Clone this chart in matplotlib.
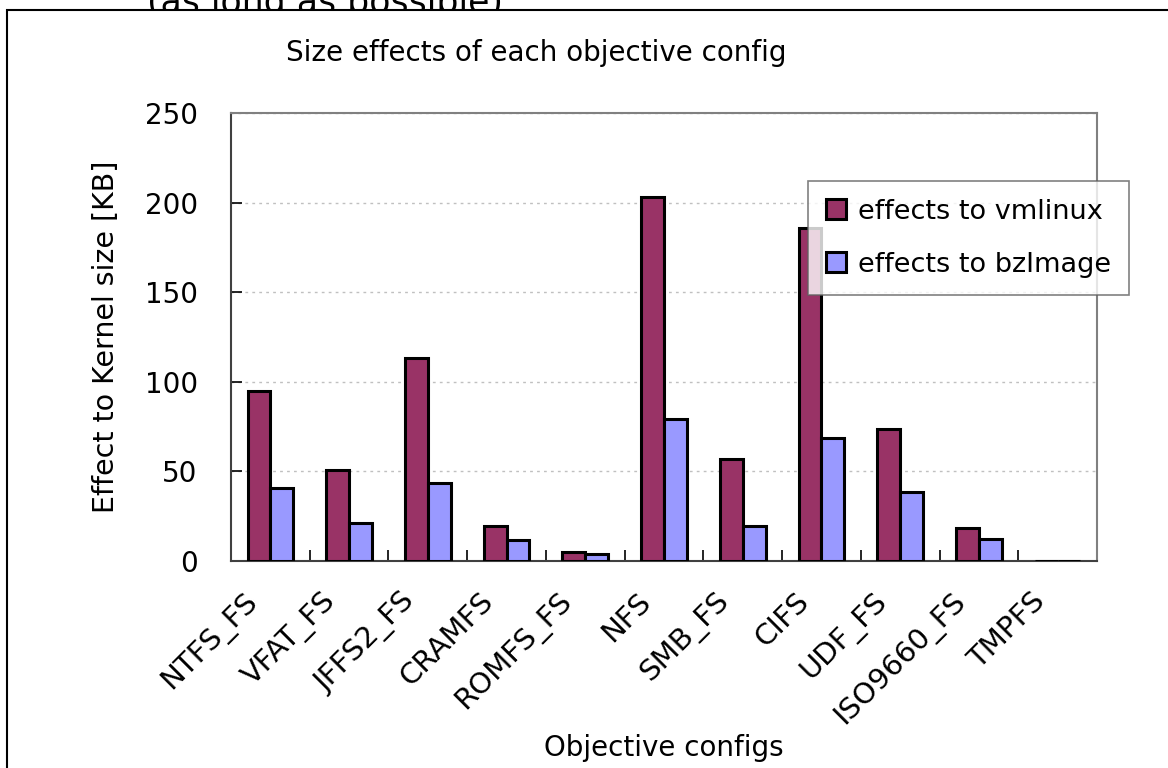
import matplotlib
matplotlib.use("Agg")
import matplotlib.pyplot as plt
import matplotlib.transforms as mtransforms
import numpy as np
from matplotlib.patches import Rectangle

categories = ["NTFS_FS", "VFAT_FS", "JFFS2_FS", "CRAMFS", "ROMFS_FS", "NFS",
              "SMB_FS", "CIFS", "UDF_FS", "ISO9660_FS", "TMPFS"]
vmlinux = [95, 51, 113.5, 19.7, 5.2, 203, 56.7, 185.6, 73.7, 18.6, 0]
bzimage = [41, 21.2, 43.4, 11.9, 3.7, 79, 19.7, 68.5, 38.3, 12.1, 0]
yticks = [0, 50, 100, 150, 200, 250]

W, H = 1168, 768
plt.rcParams['font.family'] = ['DejaVu Sans']
fig = plt.figure(figsize=(W / 100, H / 100), dpi=100)

# text peeking above the chart frame (cut by the frame)
fig.text(147 / W, 1 - 13 / H, "(as long as possible)", fontsize=25, ha='left',
         va='baseline', zorder=0.2)
# outer white chart frame
fig.patches.append(Rectangle((7 / W, -0.05), 1.1, 1 - 10 / H + 0.05, transform=fig.transFigure,
                             facecolor='white', edgecolor='black', linewidth=1.5, zorder=0.5))

ax = fig.add_axes([231 / W, 1 - 561 / H, (1097 - 231) / W, (561 - 113) / H])
ax.set_zorder(1)
x = np.arange(len(categories))
bw = 0.29
ax.bar(x - bw / 2, vmlinux, bw, color='#993366', edgecolor='black', linewidth=2.2,
       label='effects to vmlinux', zorder=3)
ax.bar(x + bw / 2, bzimage, bw, color='#9999FF', edgecolor='black', linewidth=2.2,
       label='effects to bzImage', zorder=3)

ax.set_xlim(-0.5, len(categories) - 0.5)
ax.set_ylim(0, 250)
ax.set_yticks(yticks)
ax.set_yticklabels([str(v) for v in yticks], fontsize=20)
ax.yaxis.grid(True, linestyle=(0, (2, 3)), color='#c0c0c0', linewidth=1, zorder=0)
ax.tick_params(axis='y', direction='in', length=8, width=1.2, pad=24)

ax.set_xticks(x)
ax.set_xticklabels(categories, rotation=45, ha='right', rotation_mode='anchor', fontsize=21)
ax.tick_params(axis='x', which='major', length=0, pad=19)
offset = mtransforms.ScaledTranslation(-27 / 100, 0, fig.dpi_scale_trans)
for lbl in ax.get_xticklabels():
    lbl.set_transform(lbl.get_transform() + offset)
ax.set_xticks(np.arange(len(categories) + 1) - 0.5, minor=True)
ax.tick_params(axis='x', which='minor', direction='in', length=8, width=1.2)

for s in ['top', 'right']:
    ax.spines[s].set_color('#808080')
    ax.spines[s].set_linewidth(1.5)
for s in ['left', 'bottom']:
    ax.spines[s].set_color('#404040')
    ax.spines[s].set_linewidth(1.5)

ax.set_ylabel("Effect to Kernel size [KB]", fontsize=20.5, labelpad=18)
ax.set_xlabel("Objective configs", fontsize=20)
ax.xaxis.set_label_coords(0.5, -(748 - 561) / (561 - 113))
ax.xaxis.label.set_va('center')
fig.text(536 / W, 1 - 53 / H, "Size effects of each objective config", fontsize=20,
         ha='center', va='center', zorder=3)

leg = ax.legend(loc='upper left',
                bbox_to_anchor=((808 - 231) / (1097 - 231), (561 - 181) / (561 - 113)),
                fontsize=19.5, frameon=True, fancybox=False, edgecolor='#606060',
                handlelength=0.75, handleheight=0.75, handletextpad=0.45, borderpad=0.65,
                labelspacing=1.0, borderaxespad=0)
leg.get_frame().set_linewidth(1.2)
leg.set_zorder(5)

fig.savefig("out.png", dpi=100)
